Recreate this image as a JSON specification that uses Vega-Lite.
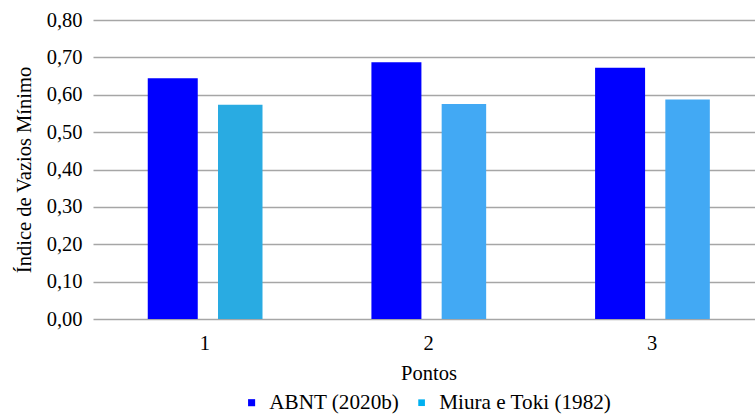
{
  "$schema": "https://vega.github.io/schema/vega-lite/v6.json",
  "width": 660,
  "height": 299,
  "autosize": "none",
  "padding": {"left": 95, "top": 20, "right": 0, "bottom": 95},
  "background": "white",
  "config": {
    "view": {"stroke": null},
    "font": "Liberation Serif",
    "axis": {
      "labelFont": "Liberation Serif",
      "titleFont": "Liberation Serif",
      "labelColor": "#000000",
      "titleColor": "#000000",
      "titleFontWeight": "normal",
      "labelFontSize": 20.5,
      "titleFontSize": 20.5
    },
    "legend": {"labelFont": "Liberation Serif", "labelColor": "#000000", "labelFontSize": 21.2, "labelLimit": 400}
  },
  "data": {
    "values": [
      {"ponto": "1", "serie": "ABNT (2020b)", "valor": 0.644},
      {"ponto": "1", "serie": "Miura e Toki (1982)", "valor": 0.573},
      {"ponto": "2", "serie": "ABNT (2020b)", "valor": 0.687},
      {"ponto": "2", "serie": "Miura e Toki (1982)", "valor": 0.575},
      {"ponto": "3", "serie": "ABNT (2020b)", "valor": 0.672},
      {"ponto": "3", "serie": "Miura e Toki (1982)", "valor": 0.587}
    ]
  },
  "mark": {"type": "bar"},
  "encoding": {
    "x": {
      "field": "ponto",
      "type": "nominal",
      "scale": {"range": [-2, 669], "paddingInner": 0, "paddingOuter": 0},
      "axis": {"title": "Pontos", "labelAngle": 0, "domain": false, "ticks": false, "labelPadding": 14, "titlePadding": 10}
    },
    "xOffset": {
      "field": "serie",
      "type": "nominal",
      "scale": {"range": [46, 181], "paddingInner": 0, "paddingOuter": 0}
    },
    "y": {
      "field": "valor",
      "type": "quantitative",
      "scale": {"domain": [0, 0.8], "nice": false},
      "axis": {
        "title": "Índice de Vazios Mínimo",
        "values": [0, 0.1, 0.2, 0.3, 0.4, 0.5, 0.6, 0.7, 0.8],
        "labelExpr": "replace(format(datum.value, '.2f'), '.', ',')",
        "domain": false,
        "ticks": false,
        "gridColor": "#A6A6A6",
        "gridWidth": 1.5,
        "labelPadding": 13,
        "titlePadding": 12
      }
    },
    "size": {
      "field": "serie",
      "type": "nominal",
      "scale": {"domain": ["ABNT (2020b)", "Miura e Toki (1982)"], "range": [50, 44.5]},
      "legend": null
    },
    "color": {
      "field": "serie",
      "type": "nominal",
      "condition": [
        {"test": "datum.serie === 'Miura e Toki (1982)' && datum.ponto === '1'", "value": "#29ABE2"},
        {"test": "datum.serie === 'Miura e Toki (1982)'", "value": "#42A9F4"}
      ],
      "scale": {"domain": ["ABNT (2020b)", "Miura e Toki (1982)"], "range": ["#0000FF", "#00B0F0"]},
      "legend": {
        "title": null,
        "orient": "none",
        "direction": "horizontal",
        "legendX": 146,
        "legendY": 372,
        "symbolType": "square",
        "symbolSize": 72,
        "symbolStrokeWidth": 0,
        "labelOffset": 7,
        "columnPadding": 11
      }
    }
  }
}
